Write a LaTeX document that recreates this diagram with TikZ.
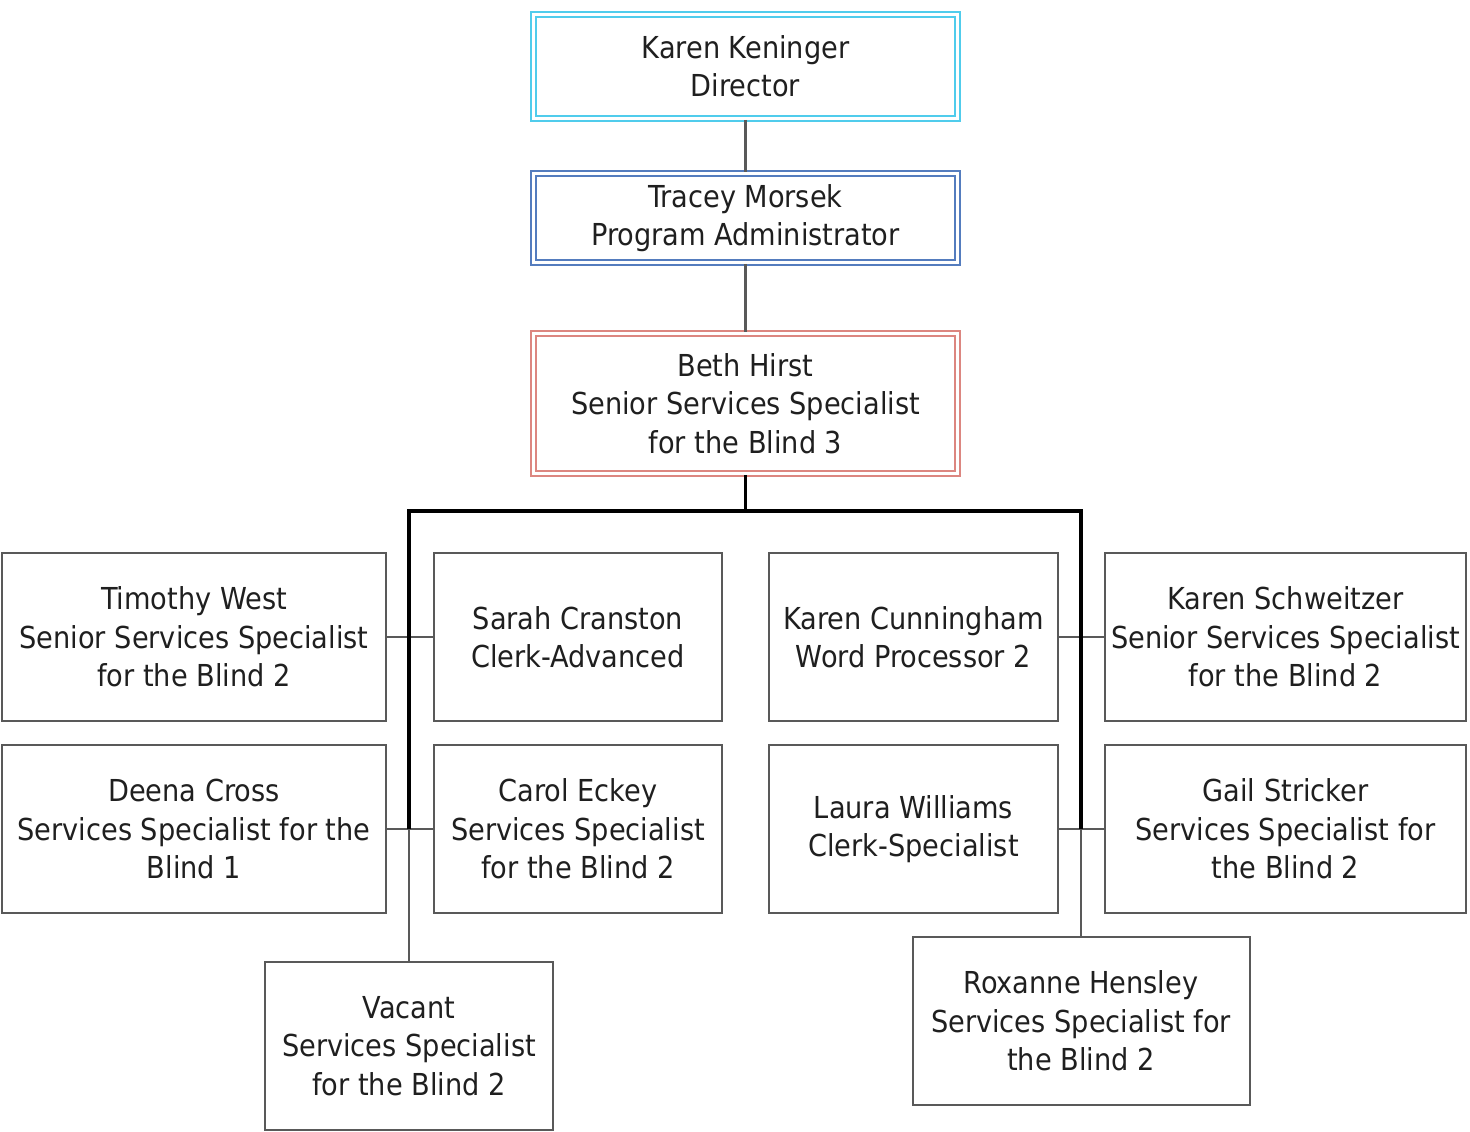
\documentclass[tikz,border=0pt]{standalone}
\usepackage{fontspec}
\setmainfont{DejaVu Sans Condensed}
\definecolor{ChartCyan}{RGB}{80, 204, 236}
\definecolor{ChartBlue}{RGB}{84, 124, 190}
\definecolor{ChartRose}{RGB}{220, 134, 128}
\usetikzlibrary{positioning, calc}

\begin{document}
\begin{tikzpicture}[
      x=0.2mm, y=-0.2mm,
      font=\fontsize{17.2}{21.8}\selectfont,
      boxTop/.style={draw=ChartCyan, double=white, double distance=0.55mm, line width=0.4mm,
        minimum width=84.9mm, align=center, inner sep=0pt, text=black!88},
      boxStaff/.style={draw=black!65, line width=0.4mm, minimum height=33.6mm,
        align=center, inner sep=0pt, text=black!88},
      link/.style={draw=black!65, line width=0.42mm},
      bus/.style={draw=black, line width=0.65mm}
    ]
      \useasboundingbox (0,0) rectangle (1470,1131);
      % Management chain (double-ruled boxes).
      \node[boxTop, minimum height=20.9mm] (dir) at (745.5, 66.5) {Karen Keninger\\Director};
      \node[boxTop, draw=ChartBlue, minimum height=17.9mm] (adm) at (745.5, 218) {Tracey Morsek\\Program Administrator};
      \node[boxTop, draw=ChartRose, minimum height=28.1mm] (lead) at (745.5, 403.5)
        {Beth Hirst\\Senior Services Specialist\\for the Blind 3};
      % Staff, two rows either side of the bus.
      \node[boxStaff, minimum width=76.8mm] (twest) at (194, 637)
        {Timothy West\\Senior Services Specialist\\for the Blind 2};
      \node[boxStaff, minimum width=57.6mm] (scran) at (578, 637) {Sarah Cranston\\Clerk-Advanced};
      \node[boxStaff, minimum width=57.8mm] (kcunn) at (913.5, 637) {Karen Cunningham\\Word Processor 2};
      \node[boxStaff, minimum width=72.2mm] (kschw) at (1285.5, 637)
        {Karen Schweitzer\\Senior Services Specialist\\for the Blind 2};
      \node[boxStaff, minimum width=76.8mm] (dcross) at (194, 829)
        {Deena Cross\\Services Specialist for the\\Blind 1};
      \node[boxStaff, minimum width=57.6mm] (ceckey) at (578, 829)
        {Carol Eckey\\Services Specialist\\for the Blind 2};
      \node[boxStaff, minimum width=57.8mm] (lwill) at (913.5, 829) {Laura Williams\\Clerk-Specialist};
      \node[boxStaff, minimum width=72.2mm] (gstrick) at (1285.5, 829)
        {Gail Stricker\\Services Specialist for\\the Blind 2};
      \node[boxStaff, minimum width=57.6mm] (vacant) at (409, 1046)
        {Vacant\\Services Specialist\\for the Blind 2};
      \node[boxStaff, minimum width=67.4mm] (rhens) at (1081, 1021)
        {Roxanne Hensley\\Services Specialist for\\the Blind 2};
      \coordinate (busL) at (409, 511);
      \coordinate (busR) at (1081, 511);
      \draw[link] (dir) -- (adm);
      \draw[link] (adm) -- (lead);
      \draw[link] (twest.east) -- (scran.west);
      \draw[link] (dcross.east) -- (ceckey.west);
      \draw[link] (kcunn.east) -- (kschw.west);
      \draw[link] (lwill.east) -- (gstrick.west);
      \draw[link] (busL |- dcross.east) -- (vacant.north);
      \draw[link] (busR |- lwill.east) -- (rhens.north);
      \draw[bus] (lead.south) -- (lead.south |- busL);
      \draw[bus] (busL |- dcross.east) -- (busL) -- (busR) -- (busR |- lwill.east);
    \end{tikzpicture}
\end{document}
